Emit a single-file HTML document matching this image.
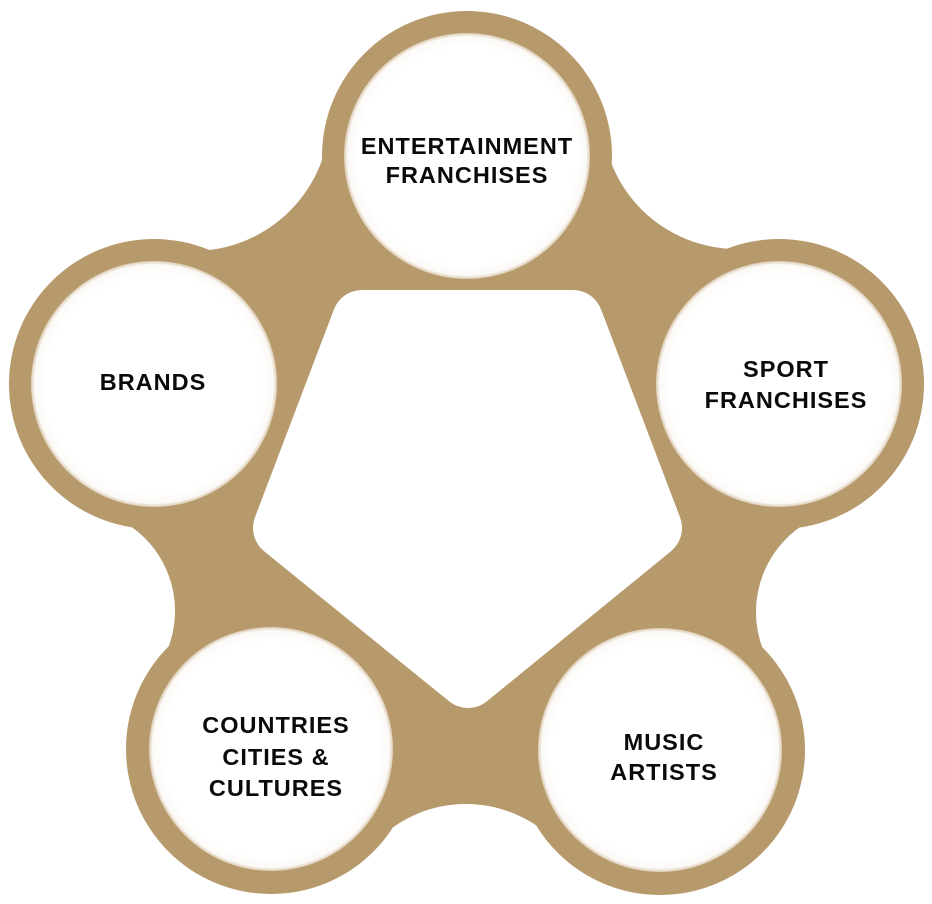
<!DOCTYPE html>
<html><head><meta charset="utf-8"><style>
html,body{margin:0;padding:0;background:#fff;}
svg{display:block;}
text{font-family:"Liberation Sans",sans-serif;font-weight:bold;font-size:23.5px;fill:#0a0a0a;text-anchor:middle;letter-spacing:1px;}
</style></head><body>
<svg width="932" height="904" viewBox="0 0 932 904" xmlns="http://www.w3.org/2000/svg">
<defs>
<mask id="m">
<rect width="932" height="904" fill="white"/>
<circle cx="193" cy="114" r="137" fill="black"/>
<circle cx="72" cy="611" r="103" fill="black"/>
<circle cx="466" cy="930" r="126" fill="black"/>
<circle cx="860" cy="612" r="104" fill="black"/>
<circle cx="737" cy="114" r="135" fill="black"/>
</mask>
<radialGradient id="rim" cx="50%" cy="50%" r="50%">
<stop offset="0.88" stop-color="#fff"/>
<stop offset="0.97" stop-color="#fcfaf7"/>
<stop offset="1" stop-color="#dccbb2"/>
</radialGradient>
</defs>
<g fill="#b79a6c">
<polygon points="193,114 72,611 466,930 860,612 737,114" mask="url(#m)"/>
<circle cx="467" cy="156" r="145"/>
<circle cx="154" cy="384" r="145"/>
<circle cx="779" cy="384" r="145"/>
<circle cx="271" cy="749" r="145"/>
<circle cx="660" cy="750" r="145"/>
</g>
<polygon points="362,320 573,320 652,528 468,678 283,528" fill="#fff" stroke="#fff" stroke-width="60" stroke-linejoin="round"/>
<g fill="url(#rim)">
<circle cx="467" cy="156" r="123"/>
<circle cx="154" cy="384" r="123"/>
<circle cx="779" cy="384" r="123"/>
<circle cx="271" cy="749" r="122"/>
<circle cx="660" cy="750" r="122"/>
</g>
<text x="467" y="154">ENTERTAINMENT</text>
<text x="467" y="183">FRANCHISES</text>
<text x="153" y="390">BRANDS</text>
<text x="786" y="377">SPORT</text>
<text x="786" y="408">FRANCHISES</text>
<text x="276" y="733">COUNTRIES</text>
<text x="276" y="765">CITIES &amp;</text>
<text x="276" y="796">CULTURES</text>
<text x="664" y="750">MUSIC</text>
<text x="664" y="780">ARTISTS</text>
</svg>
</body></html>
